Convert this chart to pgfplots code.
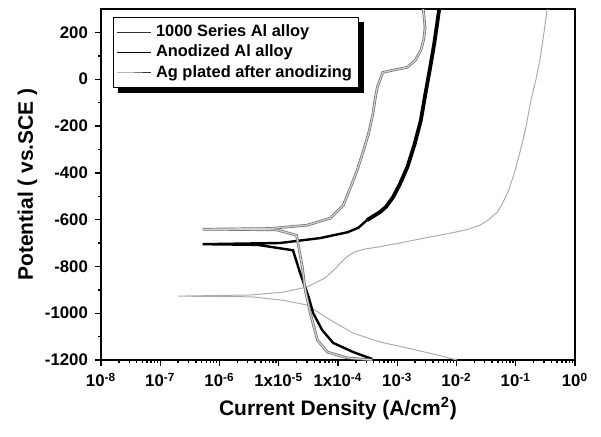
\documentclass[border=0pt]{standalone}
\usepackage{fontspec}
\setmainfont{Liberation Sans}
\usepackage{pgfplots}
\pgfplotsset{compat=1.18}
\usetikzlibrary{calc,backgrounds}

\begin{document}
\begin{tikzpicture}
\begin{axis}[
    name=ax,
    scale only axis,
    width=237pt, height=175.5pt,
    xmode=log,
    xmin=1e-8, xmax=1,
    ymin=-1200, ymax=300,
    xtick={1e-8,1e-7,1e-6,1e-5,1e-4,1e-3,1e-2,1e-1,1},
    xticklabels={10\textsuperscript{-8},10\textsuperscript{-7},10\textsuperscript{-6},1x10\textsuperscript{-5},1x10\textsuperscript{-4},10\textsuperscript{-3},10\textsuperscript{-2},10\textsuperscript{-1},10\textsuperscript{0}},
    ytick={-1200,-1000,-800,-600,-400,-200,0,200},
    yticklabels={-1200,-1000,-800,-600,-400,-200,0,200},
    minor ytick={-1100,-900,-700,-500,-300,-100,100},
    xtick pos=left, ytick pos=left,
    tick align=outside,
    major tick length=3pt, minor tick length=1.6pt,
    every tick/.style={black, line width=0.7pt},
    axis line style={line width=1pt},
    tick label style={font=\bfseries\fontsize{8.4}{10}\selectfont},
    xlabel={Current Density (A/cm\textsuperscript{2})},
    ylabel={Potential ( vs.SCE )},
    label style={font=\bfseries\fontsize{10.5}{12}\selectfont},
    xlabel style={yshift=2pt},
    ylabel style={yshift=-3pt},
    legend cell align=left,
    legend style={at={(0.025,0.977)}, anchor=north west, name=leg,
        font=\bfseries\fontsize{8.2}{9.5}\selectfont,
        draw=black, line width=0.5pt, inner sep=1.5pt,
        row sep=-1.2pt},
]
% 1000 Series Al alloy
\addplot[gray!65, line width=0.5pt, forget plot] coordinates {
(0.34,300) (0.30,200) (0.26,93) (0.22,0) (0.18,-90) (0.15,-200) (0.12,-304)
(0.095,-400) (0.076,-474) (0.060,-530) (0.049,-568) (0.035,-600)
(0.025,-624) (0.015,-643) (7.9e-3,-658) (3.0e-3,-678) (1.2e-3,-698) (5.1e-4,-716)
(2.8e-4,-726) (1.9e-4,-738) (1.4e-4,-760) (1.1e-4,-785) (9.0e-5,-810) (6.0e-5,-850)
(3.0e-5,-888) (1.2e-5,-910) (3.5e-6,-922) (2.0e-7,-927)
(3.5e-6,-930) (1.2e-5,-945) (3.0e-5,-965) (7.4e-5,-1029) (1.8e-4,-1085) (5.1e-4,-1123)
(1.5e-3,-1149) (4.8e-3,-1179) (0.0102,-1200)
};
\addlegendimage{black!80, line width=0.5pt}
\addlegendentry{1000 Series Al alloy}
% Anodized Al alloy
\addplot[black, line width=1.2pt, forget plot] coordinates {
(3.1e-4,-602) (2.2e-4,-635) (1.45e-4,-654) (5.0e-5,-679)
(1.05e-5,-700) (5.2e-7,-705)
(4.4e-6,-708) (1.74e-5,-731) (2.3e-5,-829) (3.2e-5,-931) (3.8e-5,-999)
(5.4e-5,-1072) (8.3e-5,-1127) (1.8e-4,-1166) (3.8e-4,-1196)
};
\addplot[black, line width=1.9pt, forget plot] coordinates {
(5.1e-3,300) (4.8e-3,251) (4.2e-3,150) (3.6e-3,51) (3.0e-3,-60) (2.5e-3,-176) (1.95e-3,-280) (1.48e-3,-376)
(1.1e-3,-450) (8.5e-4,-504) (6.5e-4,-545) (5.1e-4,-568) (3.1e-4,-602)
};
\addlegendimage{black, line width=0.8pt}
\addlegendentry{Anodized Al alloy}
% Ag plated after anodizing
\addplot[gray!85!black, line width=0.35pt, double=gray!35, double distance=0.6pt, forget plot] coordinates {
(2.75e-3,300) (2.95e-3,221) (2.8e-3,170) (2.5e-3,123) (2.0e-3,80) (1.48e-3,51) (9.0e-4,40) (5.7e-4,29)
(4.6e-4,-35) (4.2e-4,-90) (3.9e-4,-146) (3.3e-4,-230) (2.7e-4,-304) (2.1e-4,-390) (1.63e-4,-462) (1.23e-4,-538)
(7.4e-5,-594) (3.0e-5,-624) (7.1e-6,-638) (5.2e-7,-641)
(9.3e-6,-644) (2.0e-5,-667) (2.5e-5,-803) (2.8e-5,-901) (3.4e-5,-999)
(4.5e-5,-1115) (6.6e-5,-1166) (1.45e-4,-1191) (3.8e-4,-1200)
};
\addlegendimage{black!80, line width=0.5pt}
\addlegendentry{Ag plated after anodizing}
\end{axis}
\begin{scope}[on background layer]
\fill[black] ($(leg.south west)+(2.5pt,-2.5pt)$) rectangle ($(leg.north east)+(2.5pt,-2.5pt)$);
\end{scope}
\pgfresetboundingbox
\path[use as bounding box] ($(ax.south west)+(-50.5pt,-38pt)$) rectangle ($(ax.north east)+(13pt,4.5pt)$);
\end{tikzpicture}
\end{document}
